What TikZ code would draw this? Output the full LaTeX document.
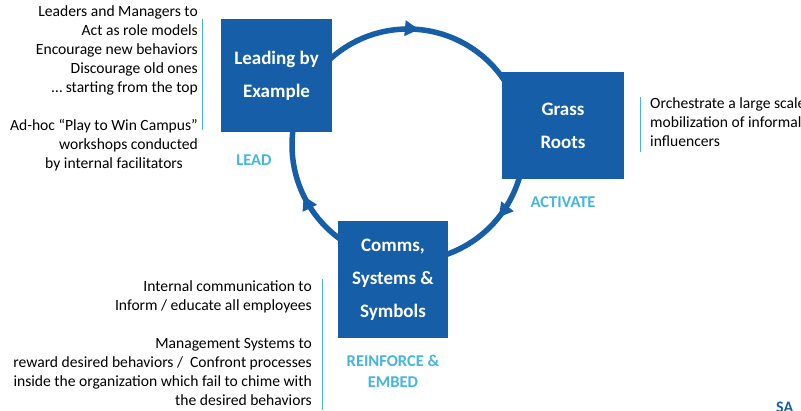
\documentclass[tikz,border=0pt]{standalone}
\usepackage{fontspec}
\setmainfont{Carlito}
\usetikzlibrary{arrows.meta,positioning,decorations.markings}

\definecolor{boxblue}{RGB}{22,94,168}
\definecolor{tagblue}{RGB}{68,182,222}
\definecolor{rulecol}{RGB}{70,180,225}

\tikzset{
  pillar/.style={fill=boxblue, text=white, align=center, inner sep=0pt,
    font=\fontsize{19}{33}\selectfont\bfseries},
  tag/.style={text=tagblue, align=center, inner sep=0pt,
    font=\fontsize{16.5}{21}\selectfont\bfseries},
  note/.style={inner sep=0pt, font=\fontsize{15.6}{19}\selectfont},
  sidebar/.style={rulecol, line width=1pt},
}

\begin{document}
\begin{tikzpicture}[x=1pt,y=-1pt]
	\useasboundingbox (0,0) rectangle (801,410);
	
	% the cycle, drawn clockwise behind the boxes
	\coordinate (hub) at (408,145);
	\draw[boxblue, line width=5.5pt, postaction={decorate},
	  decoration={markings,
	    mark=at position 0.265 with {\arrow{Triangle[length=14pt,width=15pt]}},
	    mark=at position 0.607 with {\arrow{Triangle[length=14pt,width=15pt]}},
	    mark=at position 0.928 with {\arrow{Triangle[length=14pt,width=15pt]}}}]
	  (hub) ++(-116,0) arc[start angle=-180, end angle=180, radius=116];
	
	\node[pillar, minimum width=111pt, minimum height=113pt] (lead)  at (276.5,75.5) {Leading by\\Example};
	\node[pillar, minimum width=122pt, minimum height=107pt] (grass) at (563,125.5) {Grass\\Roots};
	\node[pillar, minimum width=110pt, minimum height=117pt] (comms) at (393,279.5) {Comms,\\Systems \&\\Symbols};
	
	\node[tag] (leadtag) at (254,160) {LEAD};
	\node[tag, below=17pt of grass] (activate) {ACTIVATE};
	\node[tag, below=17pt of comms] (reinforce) {REINFORCE \&\\EMBED};
	
	% notes beside each box
	\node[note, anchor=north east, align=right] (leadnote) at (198,5)
	  {Leaders and Managers to\\Act as role models\hspace*{4pt}\\Encourage new behaviors\\
	   Discourage old ones\hspace*{3pt}\\… starting from the top\\[19pt]
	   Ad-hoc “Play to Win Campus”\hspace*{4pt}\\workshops conducted\hspace*{3pt}\\
	   by internal facilitators\hspace*{15pt}};
	\node[note, anchor=north west, align=left] (grassnote) at (650,97)
	  {Orchestrate a large scale\\mobilization of informal\\influencers};
	\node[note, anchor=north east, align=right] (commsnote) at (312,280)
	  {Internal communication to\\Inform / educate all employees\\[19pt]
	   Management Systems to\\reward desired behaviors /\ \ Confront processes\\
	   inside the organization which fail to chime with\\the desired behaviors};
	
	\draw[sidebar] (202,19) -- (202,130);
	\draw[sidebar] (640,97) -- (640,152);
	\draw[sidebar] (322,279) -- (322,410);
	
	\node[anchor=north west, inner sep=0pt, text=boxblue,
	  font=\fontsize{16}{16}\selectfont\bfseries] (brand) at (776,402) {SA};
	
\end{tikzpicture}
\end{document}
